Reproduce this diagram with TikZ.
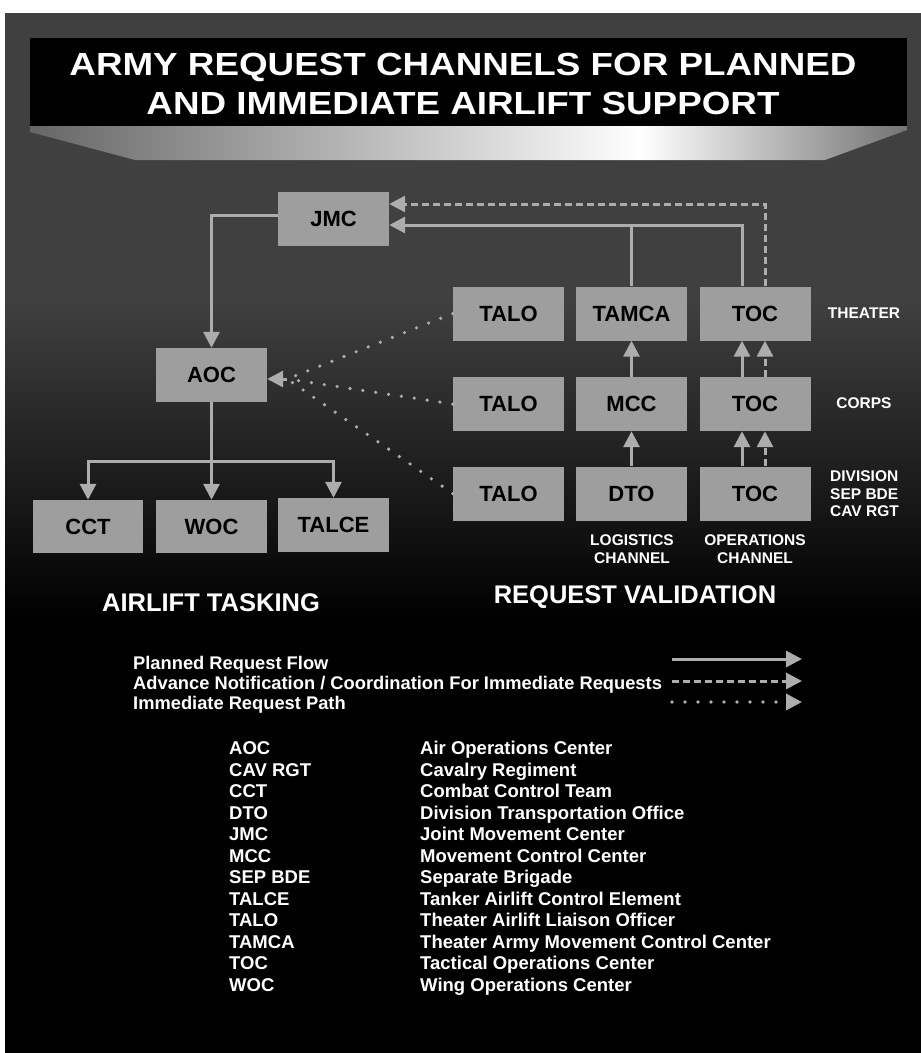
\documentclass[tikz,border=0pt]{standalone}
\usepackage{fontspec}
\setmainfont{Liberation Sans}
\newfontfamily\bannerfont[FakeStretch=1.15]{Liberation Sans}
\usepackage{xcolor}
\usepackage{tikz}
\usetikzlibrary{arrows.meta,calc}

\definecolor{boxgray}{gray}{0.62}
\definecolor{linegray}{gray}{0.68}
\definecolor{bggray}{gray}{0.25}

\begin{document}
\begin{tikzpicture}[x=1pt, y=-1pt,
  unit/.style={fill=boxgray, minimum width=111pt, minimum height=54pt, inner sep=0pt, font=\fontsize{22}{22}\selectfont\bfseries},
  planned/.style={draw=linegray, line width=3pt, -{Triangle[length=16pt,width=16pt]}},
  advance/.style={planned, dash pattern=on 7pt off 4pt},
  immediate/.style={planned, line width=3.6pt, line cap=round, dash pattern=on 0pt off 13pt},
  level/.style={text=white, inner sep=0pt, font=\fontsize{15.5}{17.5}\selectfont\bfseries},
  heading/.style={text=white, inner sep=0pt, font=\fontsize{25.5}{25.5}\selectfont\bfseries},
  legendtext/.style={text=white, anchor=base west, inner sep=0pt, font=\fontsize{18.3}{20}\selectfont\bfseries},
  keytext/.style={text=white, anchor=base west, inner sep=0pt, font=\fontsize{18.5}{20}\selectfont\bfseries}]
  \useasboundingbox (0,0) rectangle (921,1053);

  % Background and banner
  \fill[white] (0,0) rectangle (921,1053);
  \fill[bggray] (5,13) rectangle (921,300);
  \shade[top color=bggray, bottom color=black] (5,300) rectangle (921,620);
  \fill[black] (5,620) rectangle (921,1053);
  \shade[left color=black!60, right color=white] (30,126) -- (640,126) -- (640,160) -- (135,160) -- (30,132) -- cycle;
  \shade[left color=white, right color=black!55] (640,126) -- (907,126) -- (907,130) -- (825,160) -- (640,160) -- cycle;
  \fill[black] (30,38) rectangle (907,126);
  \node[text=white, align=center, font=\bannerfont\fontsize{32}{39}\selectfont\bfseries] (title) at (463,84)
    {ARMY REQUEST CHANNELS FOR PLANNED\\AND IMMEDIATE AIRLIFT SUPPORT};

  % Airlift tasking
  \node[unit] (jmc) at (333.5,219) {JMC};
  \node[unit] (aoc) at (211.5,375) {AOC};
  \node[unit, minimum width=110pt, minimum height=53pt] (cct) at (88,526.5) {CCT};
  \node[unit, minimum height=53pt] (woc) at (211.5,526.5) {WOC};
  \node[unit] (talce) at (333.5,525) {TALCE};
  \node[heading] (tasking) at (211,603) {AIRLIFT TASKING};

  % Request validation
  \node[unit] (talotheater) at (508.5,313.5) {TALO};
  \node[unit] (tamca) at (631.5,313.5) {TAMCA};
  \node[unit] (toctheater) at (755,313.5) {TOC};
  \node[unit] (talocorps) at (508.5,404) {TALO};
  \node[unit] (mcc) at (631.5,404) {MCC};
  \node[unit] (toccorps) at (755,404) {TOC};
  \node[unit] (talodiv) at (508.5,493.5) {TALO};
  \node[unit] (dto) at (631.5,493.5) {DTO};
  \node[unit] (tocdiv) at (755,493.5) {TOC};
  \node[heading] (validation) at (635,597) {REQUEST VALIDATION};

  \node[level] (theater) at (864,313) {THEATER};
  \node[level] (corps) at (864,403) {CORPS};
  \node[level, anchor=west, align=left] (division) at (830,494) {DIVISION\\SEP BDE\\CAV RGT};
  \node[level, align=center, font=\fontsize{15.5}{18}\selectfont\bfseries] (logistics) at (632,549) {LOGISTICS\\CHANNEL};
  \node[level, align=center, font=\fontsize{15.5}{18}\selectfont\bfseries] (operations) at (755,549) {OPERATIONS\\CHANNEL};

  % Planned request flow
  \coordinate (split) at (211.5,461);
  \draw[planned] ([yshift=4pt]jmc.west) -| (aoc.north);
  \draw[planned, -] (aoc.south) -- (split);
  \draw[planned] (split) -| (cct.north);
  \draw[planned] (split) -- (woc.north);
  \draw[planned] (split) -| (talce.north);

  \draw[planned] (dto.north) -- (mcc.south);
  \draw[planned] (mcc.north) -- (tamca.south);
  \draw[planned] ([xshift=-13pt]tocdiv.north) -- ([xshift=-13pt]toccorps.south);
  \draw[planned] ([xshift=-13pt]toccorps.north) -- ([xshift=-13pt]toctheater.south);
  \coordinate (jmcplanned) at ([yshift=-6pt]jmc.east);
  \draw[planned] ([xshift=-13pt]toctheater.north) |- (jmcplanned);
  \draw[planned, -] (tamca.north) -- (tamca.north |- jmcplanned);

  % Advance notification / coordination
  \draw[advance] ([xshift=10pt]tocdiv.north) -- ([xshift=10pt]toccorps.south);
  \draw[advance] ([xshift=10pt]toccorps.north) -- ([xshift=10pt]toctheater.south);
  \draw[advance] ([xshift=10pt]toctheater.north) |- ([yshift=15pt]jmc.east);

  % Immediate request path
  \coordinate (aocin) at ([xshift=20pt, yshift=-4pt]aoc.east);
  \draw[immediate, -] (talotheater.west) -- (aocin);
  \draw[immediate, -] (talocorps.west) -- (aocin);
  \draw[immediate, -] (talodiv.west) -- (aocin);
  \draw[planned] (aocin) -- (aocin -| aoc.east);

  % Legend
  \node[legendtext] (legplanned) at (133,669.5) {Planned Request Flow};
  \node[legendtext] (legadvance) at (133,689.5) {Advance Notification / Coordination For Immediate Requests};
  \node[legendtext] (legimmediate) at (133,709.5) {Immediate Request Path};
  \coordinate (plannedfrom) at (672,659);
  \coordinate (plannedto) at (802,659);
  \coordinate (advancefrom) at (672,681);
  \coordinate (advanceto) at (802,681);
  \coordinate (immediatefrom) at (672,702);
  \coordinate (immediateto) at (802,702);
  \draw[planned] (plannedfrom) -- (plannedto);
  \draw[advance] (advancefrom) -- (advanceto);
  \draw[immediate] (immediatefrom) -- (immediateto);

  % Abbreviations
  \node[keytext] (keyaoc) at (229,754.5) {AOC};        \node[keytext] (nameaoc) at (420,754.5) {Air Operations Center};
  \node[keytext] (keycav) at (229,776) {CAV RGT};      \node[keytext] (namecav) at (420,776) {Cavalry Regiment};
  \node[keytext] (keycct) at (229,797.5) {CCT};        \node[keytext] (namecct) at (420,797.5) {Combat Control Team};
  \node[keytext] (keydto) at (229,819) {DTO};          \node[keytext] (namedto) at (420,819) {Division Transportation Office};
  \node[keytext] (keyjmc) at (229,840.5) {JMC};        \node[keytext] (namejmc) at (420,840.5) {Joint Movement Center};
  \node[keytext] (keymcc) at (229,862) {MCC};          \node[keytext] (namemcc) at (420,862) {Movement Control Center};
  \node[keytext] (keysep) at (229,883.5) {SEP BDE};    \node[keytext] (namesep) at (420,883.5) {Separate Brigade};
  \node[keytext] (keytalce) at (229,905) {TALCE};      \node[keytext] (nametalce) at (420,905) {Tanker Airlift Control Element};
  \node[keytext] (keytalo) at (229,926.5) {TALO};      \node[keytext] (nametalo) at (420,926.5) {Theater Airlift Liaison Officer};
  \node[keytext] (keytamca) at (229,948) {TAMCA};      \node[keytext] (nametamca) at (420,948) {Theater Army Movement Control Center};
  \node[keytext] (keytoc) at (229,969.5) {TOC};        \node[keytext] (nametoc) at (420,969.5) {Tactical Operations Center};
  \node[keytext] (keywoc) at (229,991) {WOC};          \node[keytext] (namewoc) at (420,991) {Wing Operations Center};
\end{tikzpicture}
\end{document}
